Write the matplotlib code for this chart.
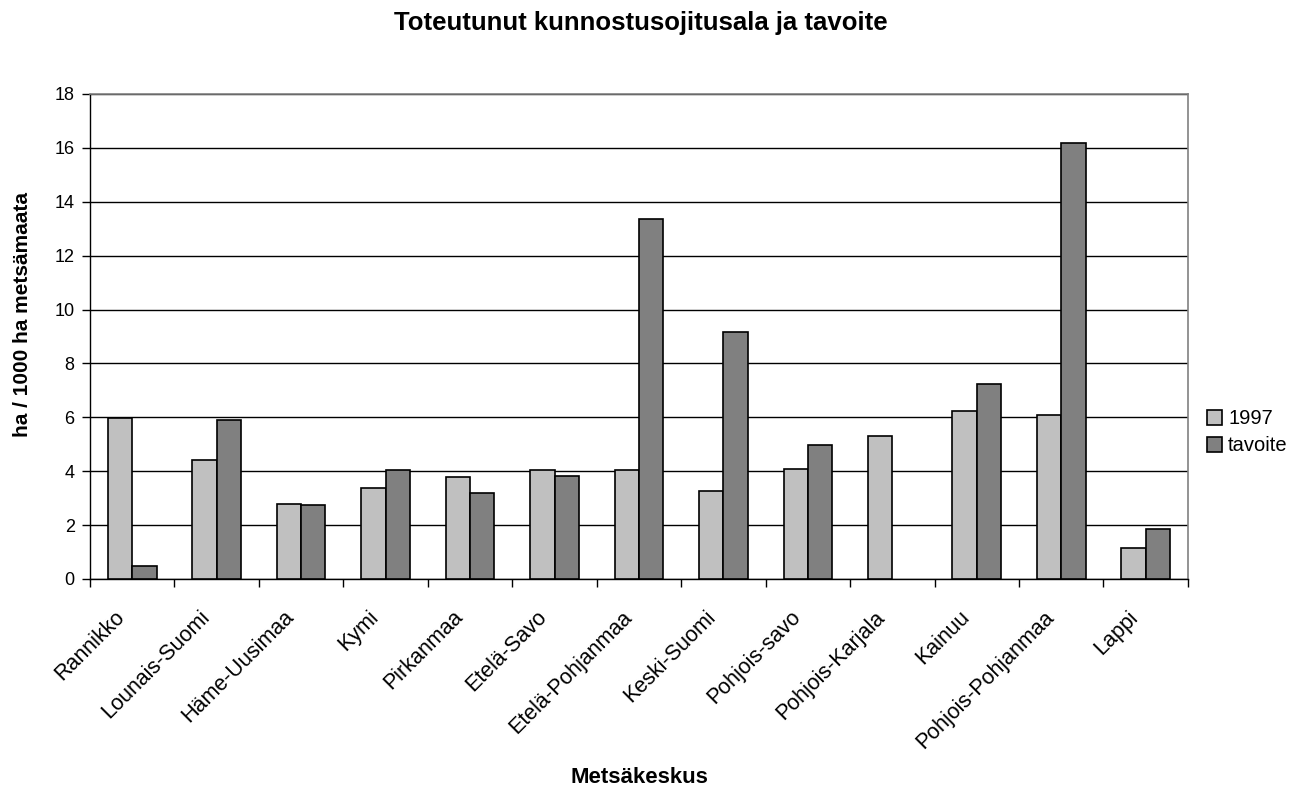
import numpy as np
import matplotlib
matplotlib.use("Agg")
from matplotlib import pyplot as plt
from matplotlib.transforms import ScaledTranslation

plt.rcParams['font.family'] = ['Liberation Sans', 'DejaVu Sans']

regions = ["Rannikko", "Lounais-Suomi", "Häme-Uusimaa", "Kymi", "Pirkanmaa",
           "Etelä-Savo", "Etelä-Pohjanmaa", "Keski-Suomi", "Pohjois-savo",
           "Pohjois-Karjala", "Kainuu", "Pohjois-Pohjanmaa", "Lappi"]
v1997 = [5.96, 4.40, 2.78, 3.36, 3.77, 4.03, 4.06, 3.25, 4.09, 5.30, 6.23, 6.10, 1.14]
tavoite = [0.47, 5.89, 2.74, 4.03, 3.18, 3.83, 13.35, 9.18, 4.97, 0.0, 7.24, 16.18, 1.86]
yticks = [0, 2, 4, 6, 8, 10, 12, 14, 16, 18]

fig = plt.figure(figsize=(13.06, 7.87), dpi=100)
ax = fig.add_axes([0.0689, 0.2643, 0.8407, 0.6163])

x = np.arange(len(regions))
w = 0.288
# empty values are not drawn at all
t_plot = np.where(np.array(tavoite) > 0, tavoite, np.nan)
ax.bar(x - w/2, v1997, w, color="#C0C0C0", edgecolor="black", linewidth=1.2, label="1997", zorder=3)
ax.bar(x + w/2, t_plot, w, color="#808080", edgecolor="black", linewidth=1.2, label="tavoite", zorder=3)

ax.set_xlim(-0.5, len(regions) - 0.5)
ax.set_ylim(0, 18)
ax.set_yticks(yticks)
ax.set_yticklabels([str(t) for t in yticks], fontsize=13)
ax.yaxis.grid(True, color="black", linewidth=1)
ax.set_axisbelow(True)
ax.tick_params(axis='y', direction='out', length=6, width=1, pad=5)

# major ticks at category boundaries, labels at centres
ax.set_xticks(np.arange(len(regions) + 1) - 0.5)
ax.set_xticklabels([])
ax.set_xticks(x, minor=True)
ax.set_xticklabels(regions, minor=True, rotation=45, ha='right', va='top',
                   rotation_mode='default', fontsize=15.5)
ax.tick_params(axis='x', which='major', direction='out', length=6, width=1)
ax.tick_params(axis='x', which='minor', length=0, pad=20)
shift = ScaledTranslation(-3 / 100, 0, fig.dpi_scale_trans)
for lab in ax.get_xticklabels(minor=True):
    lab.set_transform(lab.get_transform() + shift)

for s in ['top', 'right']:
    ax.spines[s].set_color("#808080")
    ax.spines[s].set_linewidth(1.2)
for s in ['left', 'bottom']:
    ax.spines[s].set_color("black")
    ax.spines[s].set_linewidth(1)

fig.text(0.017, 0.600, "ha / 1000 ha metsämaata", rotation=90, ha='center', va='center',
         fontsize=15, fontweight='bold')
fig.text(0.4893, 0.0045, "Metsäkeskus", ha='center', va='baseline', fontsize=16, fontweight='bold')
fig.text(0.4908, 0.9619, "Toteutunut kunnostusojitusala ja tavoite", ha='center', va='baseline',
         fontsize=18.5, fontweight='bold')

ax.legend(loc='center left', bbox_to_anchor=(0.9242, 0.4505), bbox_transform=fig.transFigure,
          frameon=False, fontsize=14.5, handlelength=0.75, handleheight=0.75, handletextpad=0.3,
          labelspacing=0.4, borderaxespad=0, borderpad=0)

fig.savefig("out.png", dpi=100)
